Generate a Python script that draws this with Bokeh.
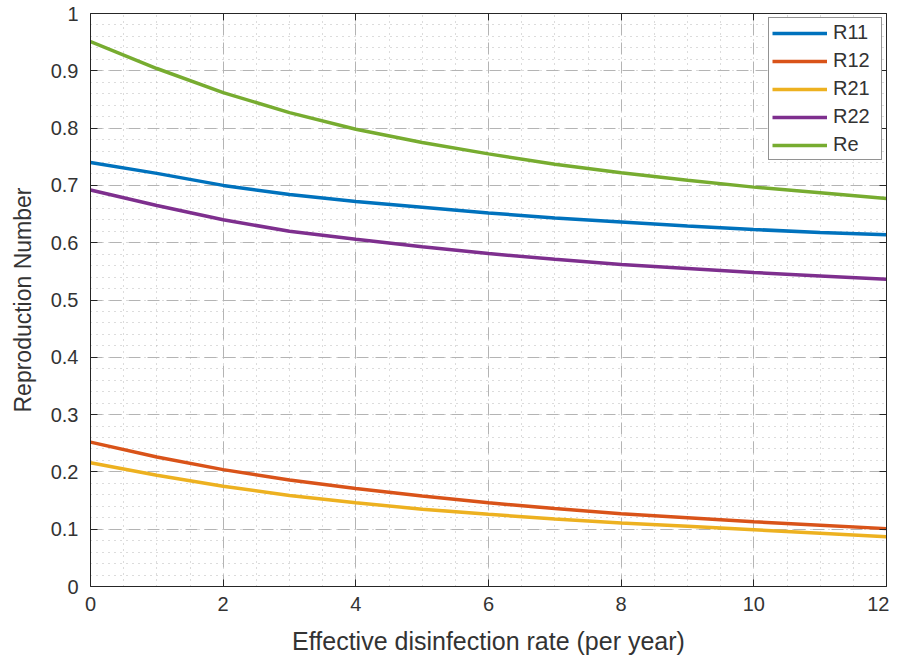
from bokeh.plotting import figure
from bokeh.models import (Range1d, SingleIntervalTicker, LinearAxis, Legend, LegendItem,
                          CustomJSTickFormatter)
from bokeh.embed import file_html
from bokeh.resources import INLINE

# ---- data ----
rate = [0, 1, 2, 3, 4, 5, 6, 7, 8, 9, 10, 11, 12]
R11 = [0.740, 0.721, 0.700, 0.684, 0.672, 0.662, 0.652, 0.643, 0.636, 0.629, 0.623, 0.618, 0.614]
R12 = [0.252, 0.226, 0.204, 0.186, 0.171, 0.158, 0.146, 0.136, 0.127, 0.120, 0.113, 0.107, 0.101]
R21 = [0.216, 0.194, 0.175, 0.159, 0.146, 0.135, 0.126, 0.118, 0.111, 0.105, 0.099, 0.093, 0.087]
R22 = [0.692, 0.665, 0.640, 0.620, 0.606, 0.593, 0.581, 0.571, 0.562, 0.555, 0.548, 0.542, 0.536]
Re = [0.951, 0.904, 0.862, 0.827, 0.798, 0.775, 0.755, 0.737, 0.722, 0.709, 0.697, 0.687, 0.677]
series_names = ["R11", "R12", "R21", "R22", "Re"]
series_values = [R11, R12, R21, R22, Re]
colors = ["#0072BD", "#D95319", "#EDB120", "#7E2F8E", "#77AC30"]
x_label = "Effective disinfection rate (per year)"
y_label = "Reproduction Number"

FONT = "Liberation Sans"
TXT = "#333333"
AX = "#262626"

p = figure(width=889, height=662, output_backend="svg", toolbar_location=None,
           x_range=Range1d(0, 12), y_range=Range1d(0, 1),
           min_border_left=90, min_border_right=3, min_border_top=13, min_border_bottom=76)
p.outline_line_color = None
p.background_fill_color = "white"
p.border_fill_color = "white"

xt = SingleIntervalTicker(interval=2, num_minor_ticks=4)
yt = SingleIntervalTicker(interval=0.1, num_minor_ticks=5)
yfmt = CustomJSTickFormatter(code="return (Math.round(tick*100)/100).toString();")
blank = CustomJSTickFormatter(code="return '';")

for ax in [p.xaxis[0], p.yaxis[0]]:
    ax.axis_line_color = AX
    ax.major_tick_line_color = AX
    ax.major_tick_in = 7
    ax.major_tick_out = 0
    ax.minor_tick_in = 0
    ax.minor_tick_out = 0
    ax.major_label_text_font = FONT
    ax.major_label_text_font_size = "20px"
    ax.major_label_text_color = TXT
    ax.axis_label_text_font = FONT
    ax.axis_label_text_font_style = "normal"
    ax.axis_label_text_color = TXT

p.xaxis[0].ticker = xt
p.yaxis[0].ticker = yt
p.yaxis[0].formatter = yfmt
p.xaxis[0].axis_label = x_label
p.yaxis[0].axis_label = y_label
p.xaxis[0].axis_label_text_font_size = "25px"
p.yaxis[0].axis_label_text_font_size = "23px"
p.xaxis[0].major_label_standoff = 10
p.yaxis[0].major_label_standoff = 12
p.xaxis[0].axis_label_standoff = 13
p.yaxis[0].axis_label_standoff = 12

top = LinearAxis(ticker=SingleIntervalTicker(interval=2), formatter=blank)
right = LinearAxis(ticker=SingleIntervalTicker(interval=0.1), formatter=blank)
for ax in [top, right]:
    ax.axis_line_color = AX
    ax.major_tick_line_color = AX
    ax.major_tick_in = 7
    ax.major_tick_out = 0
    ax.minor_tick_in = 0
    ax.minor_tick_out = 0
    ax.major_label_standoff = 0
    ax.major_label_text_font_size = "1px"
p.add_layout(top, "above")
p.add_layout(right, "right")

for g in [p.xgrid[0], p.ygrid[0]]:
    g.grid_line_color = "#b4b4b4"
    g.grid_line_dash = "12 7"
    g.grid_line_width = 1
    g.minor_grid_line_color = "#b8b8b8"
    g.minor_grid_line_dash = "1 5"
    g.minor_grid_line_width = 1
p.xgrid[0].ticker = xt
p.ygrid[0].ticker = yt

items = []
for name, vals, c in zip(series_names, series_values, colors):
    r = p.line(rate, vals, line_color=c, line_width=3.5)
    items.append(LegendItem(label=name, renderers=[r]))

legend = Legend(items=items, location="top_right", margin=4, padding=3,
                glyph_width=55, glyph_height=18, label_height=18, spacing=5,
                label_standoff=6, label_width=45,
                label_text_font=FONT, label_text_font_size="20px", label_text_color=TXT,
                border_line_color=AX, border_line_width=1,
                background_fill_color="white", background_fill_alpha=1)
p.add_layout(legend, "center")

open("out.html", "w").write(file_html(p, INLINE))
